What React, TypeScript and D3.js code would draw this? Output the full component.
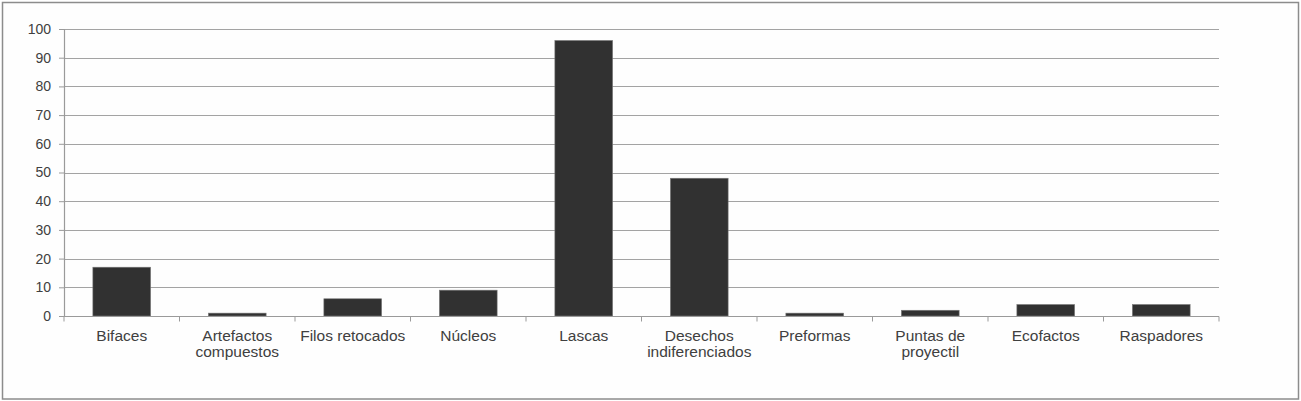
import { useRef, useEffect } from "react";
import * as d3 from "d3";

// categories and counts
const categories = [
  "Bifaces",
  "Artefactos compuestos",
  "Filos retocados",
  "Núcleos",
  "Lascas",
  "Desechos indiferenciados",
  "Preformas",
  "Puntas de proyectil",
  "Ecofactos",
  "Raspadores",
];
const values = [17, 1, 6, 9, 96, 48, 1, 2, 4, 4];
const yTicks = [0, 10, 20, 30, 40, 50, 60, 70, 80, 90, 100];

const W = 1301;
const H = 401;
const margin = { left: 64, right: 82, top: 29, bottom: 85 };

// wrap axis labels onto several lines
function wrap(text: any, width: number) {
  text.each(function (this: SVGTextElement) {
    const t = d3.select(this);
    const words = t.text().split(/\s+/);
    const y = t.attr("y");
    const dy = parseFloat(t.attr("dy") || "0");
    let line: string[] = [];
    let lineNo = 0;
    let tspan = t.text(null).append("tspan").attr("x", 0).attr("y", y).attr("dy", dy + "em");
    for (const w of words) {
      line.push(w);
      tspan.text(line.join(" "));
      if ((tspan.node() as SVGTSpanElement).getComputedTextLength() > width && line.length > 1) {
        line.pop();
        tspan.text(line.join(" "));
        line = [w];
        lineNo++;
        tspan = t.append("tspan").attr("x", 0).attr("y", y)
          .attr("dy", lineNo * 1.05 + dy + "em").text(w);
      }
    }
  });
}

export default function App() {
  const ref = useRef<SVGSVGElement>(null);

  useEffect(() => {
    const svg = d3.select(ref.current);
    svg.selectAll("*").remove();

    const x = d3.scaleBand()
      .domain(categories)
      .range([margin.left, W - margin.right])
      .paddingInner(0.5)
      .paddingOuter(0.25);
    const y = d3.scaleLinear()
      .domain([0, 100])
      .range([H - margin.bottom, margin.top]);

    // frame
    svg.append("rect")
      .attr("x", 2.5).attr("y", 2.5)
      .attr("width", W - 5).attr("height", H - 4.5)
      .attr("fill", "#fefefe")
      .attr("stroke", "#8c8c8c")
      .attr("stroke-width", 1.5);

    // gridlines
    svg.append("g")
      .selectAll("line")
      .data(yTicks.filter(d => d > 0))
      .join("line")
      .attr("x1", margin.left).attr("x2", W - margin.right)
      .attr("y1", d => Math.round(y(d)) + 0.5).attr("y2", d => Math.round(y(d)) + 0.5)
      .attr("stroke", "#a3a3a3")
      .attr("stroke-width", 1.2);

    // bars
    svg.append("g")
      .selectAll("rect")
      .data(values)
      .join("rect")
      .attr("x", (d, i) => x(categories[i])!)
      .attr("width", x.bandwidth())
      .attr("y", d => y(d))
      .attr("height", d => y(0) - y(d))
      .attr("fill", "#313131")
      .attr("stroke", "#7a7a7a")
      .attr("stroke-width", 0.6);

    // y axis
    const yAxis = svg.append("g")
      .attr("transform", `translate(${margin.left},0)`)
      .call(d3.axisLeft(y).tickValues(yTicks).tickSize(5).tickPadding(8));
    yAxis.select(".domain").attr("stroke", "#9a9a9a").attr("stroke-width", 1.2);
    yAxis.selectAll(".tick line").attr("stroke", "#9a9a9a");
    yAxis.selectAll("text")
      .attr("fill", "#404040")
      .attr("font-size", 14)
      .attr("font-family", "'Liberation Sans', Arial, sans-serif");

    // x axis with ticks at band edges
    const xg = svg.append("g")
      .attr("transform", `translate(0,${Math.round(y(0)) + 0.5})`);
    xg.append("line")
      .attr("x1", margin.left).attr("x2", W - margin.right)
      .attr("stroke", "#9a9a9a").attr("stroke-width", 1.2);
    const step = x.step();
    const edges = d3.range(categories.length + 1).map(i => margin.left + i * step);
    xg.selectAll("line.edge")
      .data(edges)
      .join("line")
      .attr("class", "edge")
      .attr("x1", d => d).attr("x2", d => d)
      .attr("y1", 0).attr("y2", 5)
      .attr("stroke", "#9a9a9a");

    const labels = xg.selectAll("g.lab")
      .data(categories)
      .join("g")
      .attr("class", "lab")
      .attr("transform", d => `translate(${x(d)! + x.bandwidth() / 2},0)`);
    labels.append("text")
      .attr("y", 24)
      .attr("dy", 0)
      .attr("text-anchor", "middle")
      .attr("fill", "#404040")
      .attr("font-size", 15.5)
      .attr("font-family", "'Liberation Sans', Arial, sans-serif")
      .text(d => d)
      .call(wrap, step - 4);
  }, []);

  return (
    <svg
      ref={ref}
      width={W}
      height={H}
      style={{ position: "absolute", left: 0, top: 0, background: "#fff" }}
    />
  );
}
